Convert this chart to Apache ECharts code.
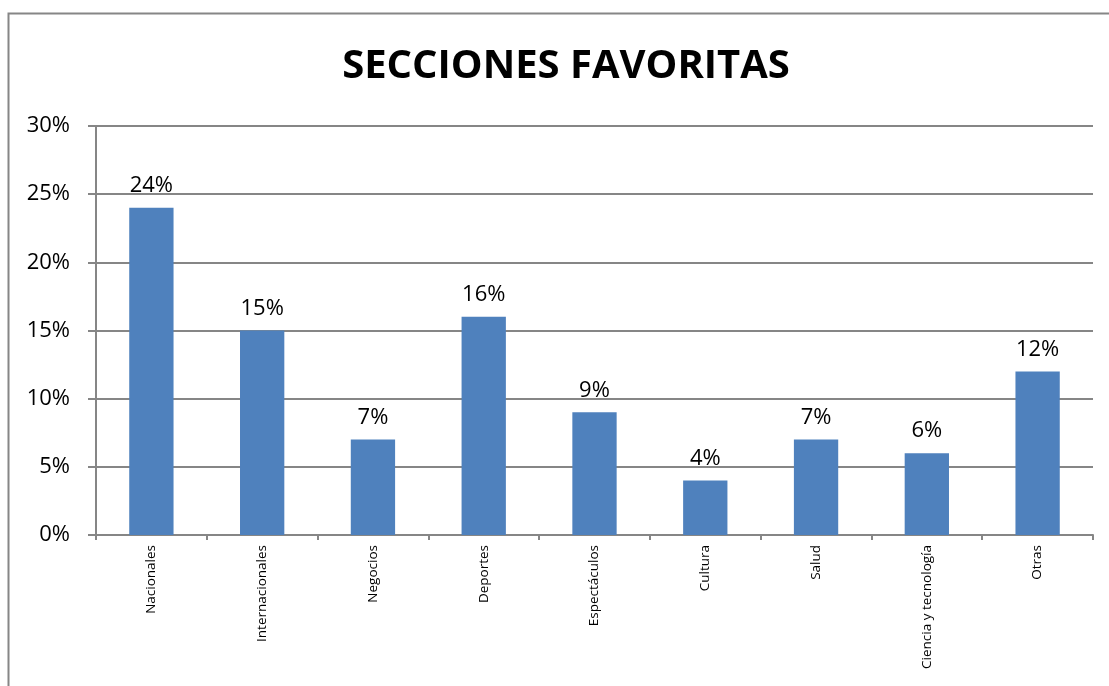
<!DOCTYPE html>
<html>
<head>
<meta charset="utf-8">
<script src="https://cdn.jsdelivr.net/npm/echarts@6/dist/echarts.min.js"></script>
<style>
  html, body { margin: 0; padding: 0; background: #fff; }
  #chart { width: 1109px; height: 686px; }
</style>
</head>
<body>
<div id="chart"></div>
<script>
// datos del gráfico
const categorias = ['Nacionales', 'Internacionales', 'Negocios', 'Deportes', 'Espectáculos', 'Cultura', 'Salud', 'Ciencia y tecnología', 'Otras'];
const porcentajes = [24, 15, 7, 16, 9, 4, 7, 6, 12];
const titulo = 'SECCIONES FAVORITAS';

const fuente = 'Open Sans';
const gris = '#868686';

let myChart = echarts.init(document.getElementById('chart'));
let option = {
  animation: false,
  backgroundColor: '#fff',
  graphic: [{
    type: 'rect',
    shape: { x: 8.5, y: 13.5, width: 1300, height: 900 },
    style: { fill: 'none', stroke: gris, lineWidth: 2 },
    silent: true
  }],
  title: {
    text: titulo,
    left: 561,
    textAlign: 'center',
    top: 42,
    textStyle: {
      fontFamily: fuente,
      fontWeight: 'bold',
      fontSize: 40,
      color: '#000'
    }
  },
  grid: {
    left: 96,
    right: 16,
    top: 126,
    bottom: 151,
    containLabel: false
  },
  xAxis: {
    type: 'category',
    data: categorias,
    axisLine: { lineStyle: { color: gris, width: 2 } },
    axisTick: { show: true, length: 5, lineStyle: { color: gris, width: 2 } },
    axisLabel: {
      rotate: 90,
      interval: 0,
      margin: 10,
      fontFamily: fuente,
      fontSize: 13.5,
      color: '#000'
    }
  },
  yAxis: {
    type: 'value',
    min: 0,
    max: 30,
    interval: 5,
    axisLine: { show: true, lineStyle: { color: gris, width: 2 } },
    axisTick: { show: true, length: 8, lineStyle: { color: gris, width: 2 } },
    splitLine: { lineStyle: { color: gris, width: 2 } },
    axisLabel: {
      formatter: '{value}%',
      margin: 26,
      fontFamily: fuente,
      fontSize: 22,
      color: '#000'
    }
  },
  series: [{
    type: 'bar',
    data: porcentajes,
    barWidth: '40%',
    itemStyle: { color: '#4F81BD' },
    label: {
      show: true,
      position: 'top',
      distance: 11,
      formatter: '{c}%',
      fontFamily: fuente,
      fontSize: 22,
      color: '#000'
    }
  }]
};
myChart.setOption(option);
</script>
</body>
</html>
